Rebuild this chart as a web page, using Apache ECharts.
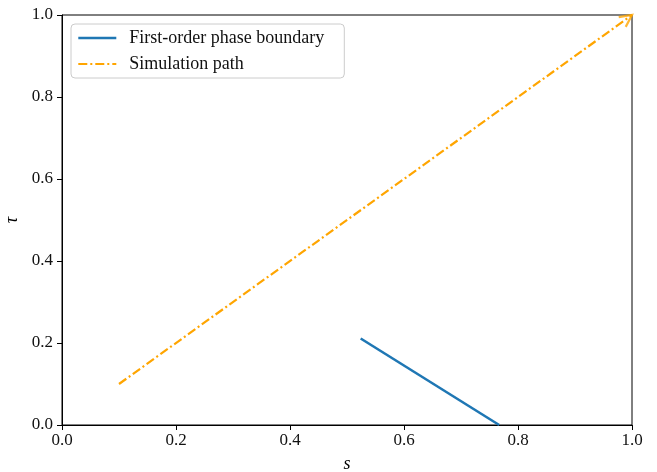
<!DOCTYPE html>
<html>
<head>
<meta charset="utf-8">
<script src="https://cdn.jsdelivr.net/npm/echarts@6/dist/echarts.min.js"></script>
<style>
html,body{margin:0;padding:0;background:#fff;}
#c{width:657px;height:472px;}
</style>
</head>
<body>
<div id="c"></div>
<script>
var seriesNames = ['First-order phase boundary', 'Simulation path'];
var boundaryPoints = [[0.524, 0.211], [0.767, 0.0]];
var pathPoints = [[0.1, 0.1], [1.0, 1.0]];
var tickValues = [0.0, 0.2, 0.4, 0.6, 0.8, 1.0];

var FONT = '"Liberation Serif", "DejaVu Serif", serif';
var BLUE = '#1f77b4';
var ORANGE = '#ffa500';
var BLUE_W = 2.6, ORANGE_W = 2.2;

var chart = echarts.init(document.getElementById('c'), null, {renderer: 'canvas'});

function axisCommon(name, nameGap) {
  return {
    type: 'value', min: 0, max: 1, interval: 0.2,
    name: name, nameLocation: 'middle', nameGap: nameGap,
    nameTextStyle: {fontFamily: FONT, fontSize: 18, fontStyle: 'italic', color: '#000'},
    axisLine: {show: true, onZero: false, lineStyle: {color: '#000', width: 1}},
    axisTick: {show: true, inside: false, length: 5, lineStyle: {color: '#000', width: 1}},
    axisLabel: {fontFamily: FONT, fontSize: 17, color: '#111',
      formatter: function (v) { return v.toFixed(1); }},
    splitLine: {show: false}
  };
}

var xAxis = axisCommon('s', 30);
xAxis.axisLabel.margin = 7;
var yAxis = axisCommon('\u03c4', 40);
yAxis.axisLabel.margin = 9;

var option = {
  animation: false,
  backgroundColor: '#fff',
  grid: {left: 62, right: 25, top: 15, bottom: 47, containLabel: false, outerBoundsMode: 'none',
    show: true, borderColor: '#000', borderWidth: 1, backgroundColor: 'transparent'},
  xAxis: xAxis,
  yAxis: yAxis,
  legend: {
    data: [
      {name: seriesNames[0], lineStyle: {width: BLUE_W}},
      {name: seriesNames[1], lineStyle: {width: ORANGE_W}}
    ],
    orient: 'vertical',
    left: 71, top: 24,
    padding: [5, 8, 5, 6],
    itemWidth: 38, itemHeight: 14, itemGap: 8,
    itemStyle: {opacity: 0},
    backgroundColor: 'rgba(255,255,255,0.8)',
    borderColor: '#cccccc', borderWidth: 1, borderRadius: 4,
    textStyle: {fontFamily: FONT, fontSize: 18, color: '#111', lineHeight: 17, width: 207, padding: [0, 0, 0, 8]}
  },
  series: [
    {
      name: seriesNames[0], type: 'line', data: boundaryPoints,
      symbol: 'none', clip: false,
      lineStyle: {color: BLUE, width: BLUE_W}, itemStyle: {color: BLUE}, z: 3
    },
    {
      name: seriesNames[1], type: 'line', data: pathPoints,
      symbol: 'none', clip: false,
      lineStyle: {color: ORANGE, width: ORANGE_W, type: [9, 3, 2, 3]}, itemStyle: {color: ORANGE}, z: 2
    },
    {
      name: 'arrow', type: 'scatter', data: [pathPoints[pathPoints.length - 1]],
      symbol: 'path://M0,0 L12,6 L0,12', symbolSize: [12, 12], symbolKeepAspect: true,
      symbolRotate: 35.7, symbolOffset: [-4.9, 3.5], clip: false, silent: true,
      itemStyle: {color: 'transparent', borderColor: ORANGE, borderWidth: ORANGE_W}, z: 4
    }
  ]
};
chart.setOption(option);
</script>
</body>
</html>
